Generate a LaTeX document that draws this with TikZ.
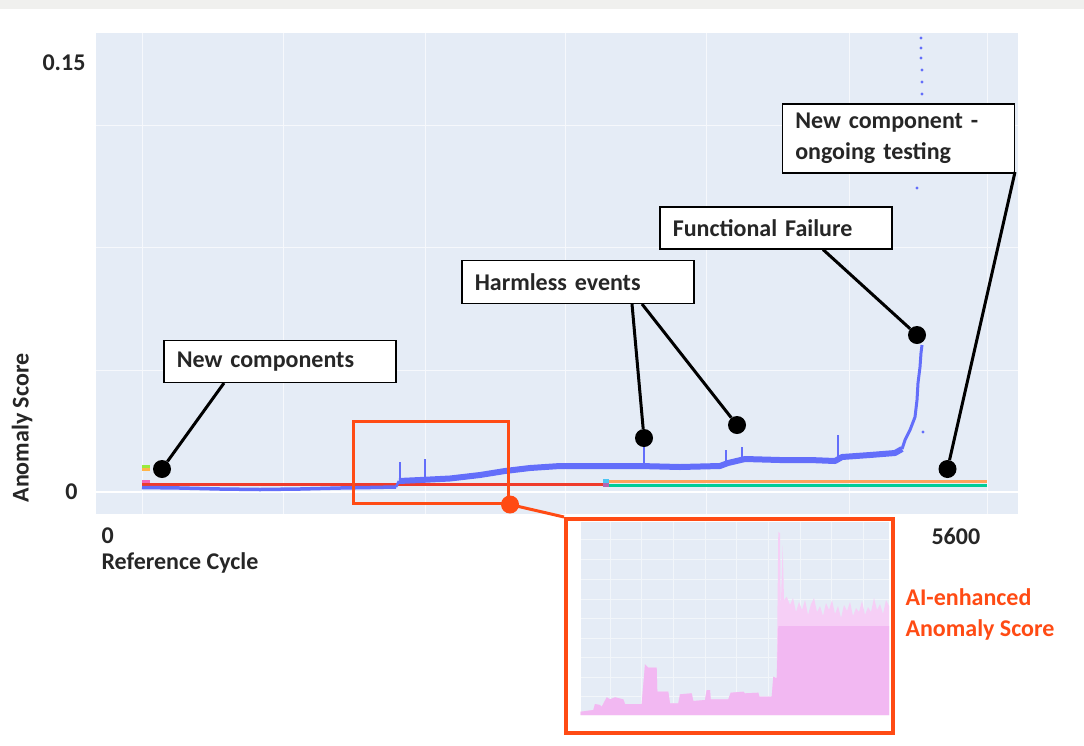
\documentclass[tikz,border=0pt]{standalone}
\usepackage{fontspec}
\setmainfont{Carlito}
\usepackage{tikz}
\definecolor{plotbg}{HTML}{E5ECF6}
\definecolor{topband}{HTML}{F0F0EE}
\definecolor{scoreblue}{HTML}{636EFA}
\definecolor{scorered}{HTML}{EF3B2C}
\definecolor{scoreorange}{HTML}{FFA15A}
\definecolor{scoregreen}{HTML}{00CC96}
\definecolor{zoomred}{HTML}{FF4B14}
\definecolor{aipink}{HTML}{F2B8F2}
\definecolor{aipinklight}{HTML}{F6CFF6}

\begin{document}
\begin{tikzpicture}[x=1pt, y=-1pt,
    every node/.style={font=\fontsize{24}{31}\selectfont\bfseries, text=black!85},
    callout/.style={draw=black, line width=1.5pt, fill=white, anchor=north west,
        inner xsep=13pt, inner ysep=0pt, text width=206pt, align=left},
    blackdot/.style={circle, fill=black, minimum size=18pt, inner sep=0pt},
    pointer/.style={draw=black, line width=3pt},
    gridline/.style={white!65!plotbg, line width=1pt}]
	\useasboundingbox (0,0) rectangle (1084,745);
	\fill[white] (0,0) rectangle (1084,745);
	\fill[topband] (0,0) rectangle (1084,9);
	% main plot area
	\fill[plotbg] (96,33) rectangle (1018,514);
	\foreach \gy in {125,247,370}
		\draw[gridline] (96,\gy) -- (1018,\gy);
	\foreach \gx in {142,283,425,565,706,849,987}
		\draw[gridline] (\gx,33) -- (\gx,514);
	\draw[white, line width=2pt] (96,492) -- (1018,492);
	% axis labels
	\node[anchor=east] (ymax) at (89,63) {0.15};
	\node[anchor=east] (ymin) at (81,492) {0};
	\node[rotate=90] (ylabel) at (22,428) {Anomaly Score};
	\node[anchor=west] (xmin) at (98,536) {0};
	\node[anchor=west] (xlabel) at (98,563) {Reference Cycle};
	\node[anchor=west] (xmax) at (928,536) {5600};
	% small markers on the left
	\fill[scoregreen!40!yellow] (142,464.5) rectangle (150,467.5);
	\fill[scoreorange!80!yellow] (142,468) rectangle (150,471);
	\fill[magenta!60] (142,480) rectangle (150,484);
	% reference lines
	\draw[scorered, line width=3pt] (142,484) -- (606,484);
	\draw[scoreorange, line width=3pt] (605,481) -- (987,481);
	\draw[scoregreen, line width=3pt] (605,485.5) -- (987,485.5);
	\fill[cyan!70] (603,479) rectangle (609,483);
	\fill[violet!60] (603,483) rectangle (609,487);
	% anomaly score trace
	\draw[scoreblue, line width=3.5pt, line join=round] plot coordinates {
		(142,487.5) (180,488) (220,489) (260,489.5) (300,489) (340,488)
		(370,487.5) (396,487)};
	\draw[scoreblue, line width=6pt, line join=round] plot coordinates {
		(399,481) (420,480) (450,478.5) (480,475)
		(505,471) (530,468) (560,466) (600,466) (640,466) (680,467)
		(720,466) (728,463) (745,459) (780,460) (810,460) (835,461)
		(842,457) (870,455) (895,453) (902,449)};
	\draw[scoreblue, line width=2.5pt, line join=round] plot coordinates {
		(396,487) (399,481)};
	\draw[scoreblue, line width=3pt, line join=round] plot coordinates {
		(902,449) (905,440) (910,430) (915,417) (917,400) (918,383)
		(920,367) (921,353) (922,345)};
	\foreach \sx/\sa/\sb in {400/480/462, 425/478/459, 644/464/447, 726/463/450, 742/459/447, 838/458/435}
		\draw[scoreblue, line width=1.5pt] (\sx,\sa) -- (\sx,\sb);
	\foreach \px/\py in {923/432, 917/188, 921/38, 921/48, 921/58, 922/70, 922/82, 922/94}
		\fill[scoreblue] (\px,\py) circle (1.6);
	% callouts
	\node[callout, minimum height=42pt] (newcomp) at (163,339.5) {New components};
	\node[callout, minimum height=43pt] (harmless) at (461,259.5) {Harmless events};
	\node[callout, minimum height=42pt] (failure) at (659,206) {Functional Failure};
	\node[callout, minimum height=69pt] (ongoing) at (781.5,103) {New component -\\ongoing testing};
	\node[blackdot] (newcompdot) at (162,469) {};
	\node[blackdot] (harmlessdota) at (644,438) {};
	\node[blackdot] (harmlessdotb) at (737,425) {};
	\node[blackdot] (failuredot) at (917,335) {};
	\node[blackdot] (ongoingdot) at (947.5,469) {};
	\draw[pointer] ([xshift=61pt]newcomp.south west) -- (newcompdot);
	\draw[pointer] ([xshift=171pt]harmless.south west) -- (harmlessdota);
	\draw[pointer] ([xshift=181pt]harmless.south west) -- (harmlessdotb);
	\draw[pointer] ([xshift=164pt]failure.south west) -- (failuredot);
	\draw[pointer] ([yshift=1.5pt]ongoing.south east) -- (ongoingdot);
	% zoom window and inset
	\node[draw=zoomred, line width=3pt, minimum width=155.5pt, minimum height=82pt,
		anchor=north west, inner sep=0pt] (zoombox) at (351.5,419.5) {};
	\node[draw=zoomred, line width=4pt, fill=white, minimum width=327pt, minimum height=214pt,
		anchor=north west, inner sep=0pt] (inset) at (564,517) {};
	\draw[zoomred, line width=3pt] (zoombox.south east) -- (inset.north west);
	\node[circle, fill=zoomred, minimum size=18pt, inner sep=0pt] (zoomdot) at (zoombox.south east) {};
	\fill[plotbg] (581,522) rectangle (889,715);
	\foreach \gx in {610,641.7,673.3,705,736.7,768.3,800,831.7,863.3}
		\draw[white!50!plotbg, line width=0.5pt] (\gx,522) -- (\gx,715);
	\foreach \gy in {539.3,559.3,579.3,599.3,618.3,638.3,657.7,677.3,696.7}
		\draw[white!50!plotbg, line width=0.5pt] (581,\gy) -- (889,\gy);
	\fill[aipinklight] plot coordinates {
		(580.7,711.7) (593.3,710) (595,704) (600,705) (601.7,706.7) (606.7,697.3)
		(610,699.3) (615,697.3) (623.3,699.3) (625,704) (641.7,704) (645,664.3)
		(648.3,667.7) (656.7,667.7) (657.3,691.7) (668.3,691.7) (670,703.3)
		(678.3,703.3) (680,694.3) (691.7,693.3) (693.3,701) (705,700) (706.7,690)
		(710,690) (710.7,699.3) (728.3,699.3) (730.7,692.7) (743.3,691.7)
		(745,693.3) (758.3,692.7) (759.3,696.7) (771.7,696.7) (773.3,676.7)
		(776.7,678.3) (778.3,531.7) (780,533.3) (780.7,610) (782.7,545) (784,600)
		(786.7,596.7) (790,605) (793,598) (796,612) (799,602) (802,610) (805,600)
		(808,615) (811,604) (814,598) (817,612) (820,606) (823,616) (826,603)
		(829,610) (832,600) (835,614) (838,606) (841,618) (844,605) (847,611)
		(850,602) (853,616) (856,608) (859,612) (862,601) (865,615) (868,607)
		(871,612) (874,598) (877,610) (880,604) (883,614) (886,600) (889,606)}
		-- (889,715) -- (580.7,715) -- cycle;
	\fill[aipink] (580.7,711.7) -- (593.3,710) -- (595,704) -- (600,705) -- (601.7,706.7)
		-- (606.7,697.3) -- (610,699.3) -- (615,697.3) -- (623.3,699.3) -- (625,704)
		-- (641.7,704) -- (645,664.3) -- (648.3,667.7) -- (656.7,667.7) -- (657.3,691.7)
		-- (668.3,691.7) -- (670,703.3) -- (678.3,703.3) -- (680,694.3) -- (691.7,693.3)
		-- (693.3,701) -- (705,700) -- (706.7,690) -- (710,690) -- (710.7,699.3)
		-- (728.3,699.3) -- (730.7,692.7) -- (743.3,691.7) -- (745,693.3) -- (758.3,692.7)
		-- (759.3,696.7) -- (771.7,696.7) -- (773.3,676.7) -- (776.7,678.3) -- (778.3,626)
		-- (889,626) -- (889,715) -- (580.7,715) -- cycle;
	\node[anchor=west, align=left, text=zoomred] (ailabel) at (902,614) {AI-enhanced\\Anomaly Score};
\end{tikzpicture}
\end{document}
